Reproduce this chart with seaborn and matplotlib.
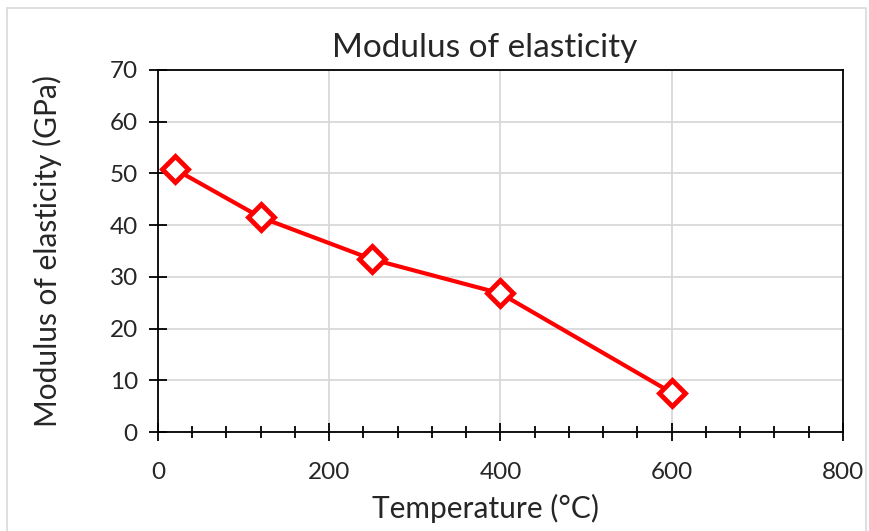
import pandas as pd
import seaborn as sns
import matplotlib.pyplot as plt
from matplotlib.patches import Rectangle

# Data
temperature = [20, 120, 250, 400, 600]
modulus = [50.8, 41.5, 33.4, 26.8, 7.6]

df = pd.DataFrame({"Temperature": temperature, "Modulus": modulus})

sns.set_style("white")
plt.rcParams["font.family"] = ["Lato", "DejaVu Sans"]

fig = plt.figure(figsize=(8.69, 5.31), dpi=100)
ax = fig.add_axes([0.1818, 0.1864, 0.7882, 0.6818])

# Light grey grid behind the data
ax.set_axisbelow(True)
ax.grid(True, color="#d9d9d9", linewidth=1.3)

sns.lineplot(data=df, x="Temperature", y="Modulus", ax=ax, color="red",
             linewidth=3, marker="D", markersize=13,
             markerfacecolor="white", markeredgecolor="red", markeredgewidth=3.5)

ax.set_xlim(0, 800)
ax.set_ylim(0, 70)
ax.set_xticks(range(0, 801, 200))
ax.set_xticks(range(0, 801, 40), minor=True)
ax.set_yticks(range(0, 71, 10))

ax.tick_params(axis="both", which="major", direction="inout", length=13,
               width=1.3, color="black", labelsize=17.5)
ax.tick_params(axis="x", which="major", pad=15)
ax.tick_params(axis="y", which="major", pad=8)
ax.tick_params(axis="x", which="minor", direction="inout", length=9,
               width=1.3, color="black")
ax.tick_params(axis="x", which="both", bottom=True)
ax.tick_params(axis="y", left=True)

for side in ["left", "right", "top", "bottom"]:
    ax.spines[side].set_visible(True)
    ax.spines[side].set_color("black")
    ax.spines[side].set_linewidth(1.3)

ax.set_title("Modulus of elasticity", fontsize=24, pad=9, x=0.477)
ax.set_xlabel("Temperature (°C)", fontsize=21.5, labelpad=8, x=0.478)
ax.set_ylabel("Modulus of elasticity (GPa)", fontsize=21.5, labelpad=34)

# Outer chart border
fig.patches.append(Rectangle((0.008, -0.01), 0.989, 0.995, transform=fig.transFigure,
                             fill=False, edgecolor="#d9d9d9", linewidth=1.2))

plt.savefig("out.png", dpi=100)
